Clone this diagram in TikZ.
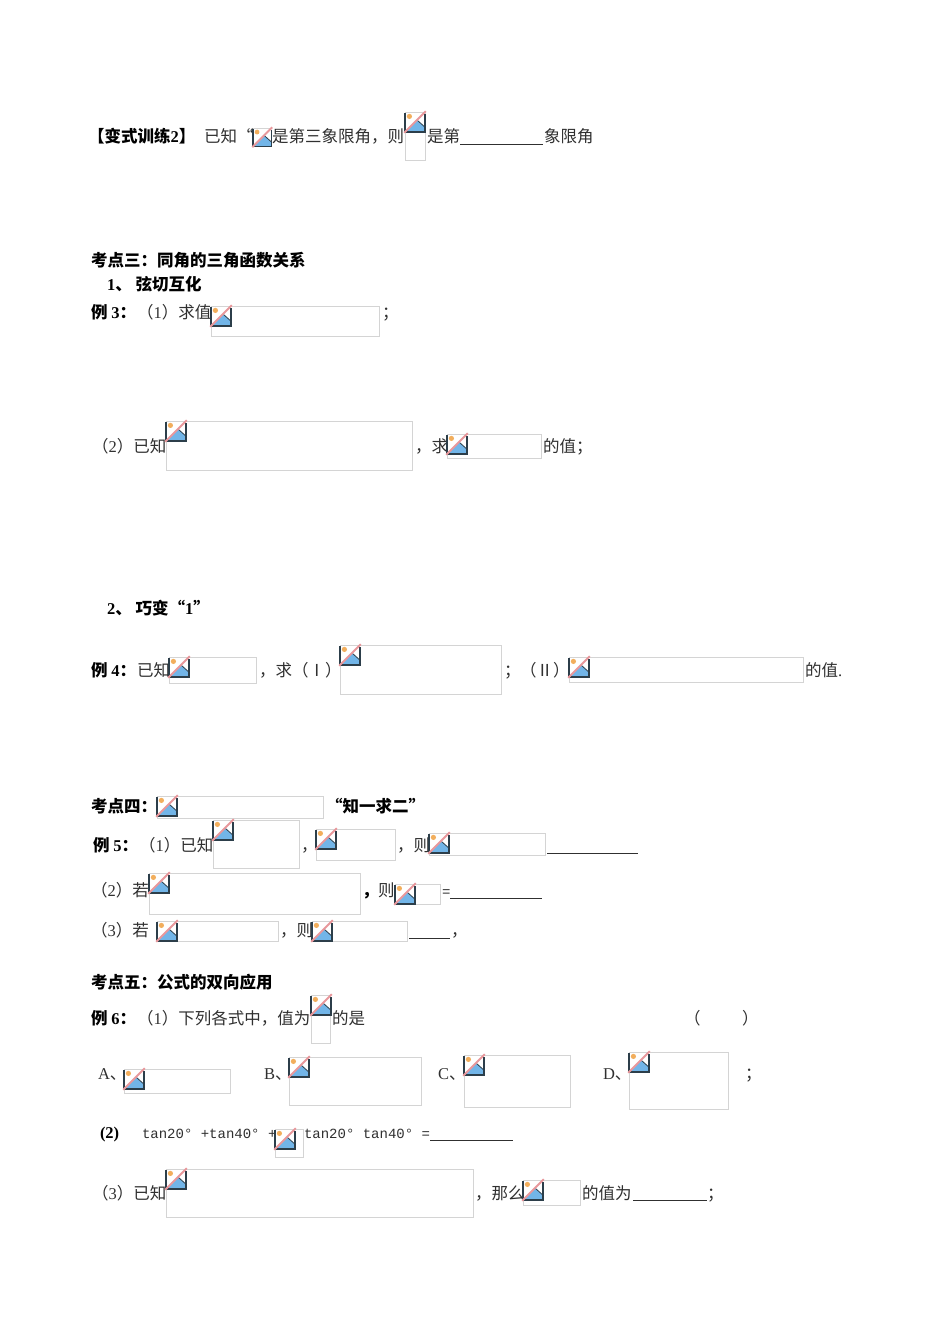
\documentclass[tikz,border=0pt]{standalone}
\usepackage{fontspec}
\setmainfont{Noto Sans CJK SC}
\newfontfamily\latf{Liberation Mono}
\newfontfamily\digf{Liberation Serif}
\newcommand{\LT}[1]{{\digf\fontsize{16.5}{18}\selectfont #1}}
\newcommand{\MT}[1]{{\latf\fontsize{14}{16}\selectfont #1}}
\definecolor{inkc}{HTML}{303030}
\definecolor{framec}{HTML}{D4D4D4}
\definecolor{icodark}{HTML}{2C3E4A}
\definecolor{icoblue}{HTML}{72B5E8}
\definecolor{icosun}{HTML}{F2AE5C}
\definecolor{icopink}{HTML}{E8989C}
\tikzset{
  txt/.style={anchor=base west,inner sep=0pt,outer sep=0pt,text=inkc,font=\fontsize{16.5}{18}\selectfont},
  btxt/.style={txt,text=black,font=\fontsize{16.5}{18}\selectfont\bfseries},
  imgframe/.style={anchor=north west,draw=framec,line width=0.9pt,fill=white,inner sep=0pt,outer sep=0pt},
  blank/.style={draw=inkc,line width=0.7pt},
}
\newcommand{\bicon}[3]{%
  \begin{scope}[shift={(#1,#2)},x=#3pt,y=-#3pt]
    \fill[white] (0,0) rectangle (1,1);
    \fill[icoblue] (0.05,1) -- (0.6,0.4) -- (1,0.76) -- (1,1) -- cycle;
    \draw[icodark,line width=0.8pt] (0.6,0.4) -- (1,0.76);
    \fill[icosun] (0.22,0.22) circle (0.13);
    \draw[icodark,line width=1.3pt] (0,1) -- (1,1) -- (1,0.1);
    \draw[icodark,line width=1.2pt] (0,0.05) -- (0,1);
    \draw[framec,line width=0.6pt] (0,0) -- (1,0);
    \draw[icopink,line width=1.9pt] (-0.04,1.04) -- (1.04,-0.04);
  \end{scope}}
\newcommand{\bimg}[5]{%
  \node[imgframe,minimum width=#4pt-1pt,minimum height=#5pt-1pt] (#1) at (#2,#3) {};
  \bicon{#2}{#3}{20}}
\begin{document}
\begin{tikzpicture}[x=1pt,y=-1pt]
\useasboundingbox[fill=white] (0,0) rectangle (950,1344);

% variant exercise
\node[btxt] (a1) at (88,142) {【变式训练\LT{\bfseries 2}】};
\node[txt] (a2) at (204,142) {已知“};
\bicon{253}{128}{18.5}
\node[txt] (a3) at (272,142) {是第三象限角，则};
\bimg{f01}{405}{112}{21}{49}
\node[txt] (a4) at (427,142) {是第};
\coordinate (a4s) at (460,144.5); \coordinate (a4e) at (543,144.5);
\draw[blank,line width=.5pt] (a4s) -- (a4e);
\node[txt] (a5) at (544,142) {象限角};

% topic 3
\node[btxt] (b1) at (91,266) {考点三：同角的三角函数关系};
\node[btxt] (b2) at (107,290) {\LT{\bfseries 1}、 弦切互化};
\node[btxt] (b3) at (91,318) {例 \LT{\bfseries 3}：};
\node[txt] (b4) at (137,318) {（\LT{1}）求值};
\bimg{f02}{211}{306}{169}{31}
\node[txt] (b5) at (382,318) {；};

\node[txt] (c1) at (92,452) {（\LT{2}）已知};
\bimg{f03}{166}{421}{247}{50}
\node[txt] (c2) at (415,452) {，求};
\bimg{f04}{447}{434}{95}{25}
\node[txt] (c3) at (543,452) {的值；};

\node[btxt] (d1) at (107,614) {\LT{\bfseries 2}、 巧变“\LT{\bfseries 1}”};

\node[btxt] (e1) at (91,676) {例 \LT{\bfseries 4}：};
\node[txt] (e2) at (137,676) {已知};
\bimg{f05}{169}{657}{88}{27}
\node[txt] (e3) at (259,676) {，求（Ⅰ）};
\bimg{f06}{340}{645}{162}{50}
\node[txt] (e4) at (504,676) {；};
\node[txt] (e5) at (520,676) {（Ⅱ）};
\bimg{f07}{569}{657}{235}{26}
\node[txt] (e6) at (805,676) {的值\LT{.}};

% topic 4
\node[btxt] (g1) at (91,812) {考点四：};
\bimg{f08}{157}{796}{167}{23}
\node[btxt] (g2) at (326,812) {“知一求二”};

\node[btxt] (h1) at (93,851) {例 \LT{\bfseries 5}：};
\node[txt] (h2) at (139,851) {（\LT{1}）已知};
\bimg{f09}{213}{820}{87}{49}
\node[txt] (h3) at (301,851) {，};
\bimg{f10}{316}{829}{80}{32}
\node[txt] (h4) at (397,851) {，则};
\bimg{f11}{429}{833}{117}{23}
\coordinate (h5s) at (547,853); \coordinate (h5e) at (638,853);
\draw[blank,line width=.5pt] (h5s) -- (h5e);

\node[txt] (i1) at (91,896) {（\LT{2}）若};
\bimg{f12}{149}{873}{212}{42}
\node[btxt] (i2) at (362,896) {，};
\node[txt] (i3) at (378,896) {则};
\bimg{f13}{395}{884}{46}{21}
\node[txt] (i4) at (442,896) {\MT{=}};
\coordinate (i5s) at (450,898.5); \coordinate (i5e) at (542,898.5);
\draw[blank,line width=.5pt] (i5s) -- (i5e);

\node[txt] (j1) at (91,936) {（\LT{3}）若};
\bimg{f14}{157}{921}{122}{21}
\node[txt] (j2) at (280,936) {，则};
\bimg{f15}{312}{921}{96}{21}
\coordinate (j3s) at (409,938); \coordinate (j3e) at (450,938);
\draw[blank] (j3s) -- (j3e);
\node[txt] (j4) at (451,936) {，};

% topic 5
\node[btxt] (k1) at (91,988) {考点五：公式的双向应用};
\node[btxt] (l1) at (91,1024) {例 \LT{\bfseries 6}：};
\node[txt] (l2) at (137,1024) {（\LT{1}）下列各式中，值为};
\bimg{f16}{311}{995}{20}{49}
\node[txt] (l3) at (332,1024) {的是};
\node[txt] (l4) at (684,1024) {（};
\node[txt] (l5) at (742,1024) {）};

\node[txt] (m1) at (98,1079) {\LT{A}、};
\bimg{f17}{124}{1069}{107}{25}
\node[txt] (m2) at (264,1079) {\LT{B}、};
\bimg{f18}{289}{1057}{133}{49}
\node[txt] (m3) at (438,1079) {\LT{C}、};
\bimg{f19}{464}{1055}{107}{53}
\node[txt] (m4) at (603,1079) {\LT{D}、};
\bimg{f20}{629}{1052}{100}{58}
\node[txt] (m5) at (745,1079) {；};

\node[btxt] (n1) at (100,1138) {\LT{\bfseries (2)}};
\node[txt] (n2) at (142,1138) {\MT{tan20° +tan40° +}};
\bimg{f21}{275}{1129}{29}{29}
\node[txt] (n3) at (304,1138) {\MT{tan20° tan40° =}};
\coordinate (n4s) at (430,1140); \coordinate (n4e) at (513,1140);
\draw[blank] (n4s) -- (n4e);

\node[txt] (o1) at (92,1199) {（\LT{3}）已知};
\bimg{f22}{166}{1169}{308}{49}
\node[txt] (o2) at (475,1199) {，那么};
\bimg{f23}{523}{1180}{58}{26}
\node[txt] (o3) at (582,1199) {的值为};
\coordinate (o4s) at (633,1200.5); \coordinate (o4m) at (665,1200.5); \coordinate (o4e) at (707,1200.5);
\draw[blank,line width=.5pt] (o4s) -- (o4m);
\draw[blank] (o4m) -- (o4e);
\node[txt] (o5) at (707,1199) {；};
\end{tikzpicture}
\end{document}
